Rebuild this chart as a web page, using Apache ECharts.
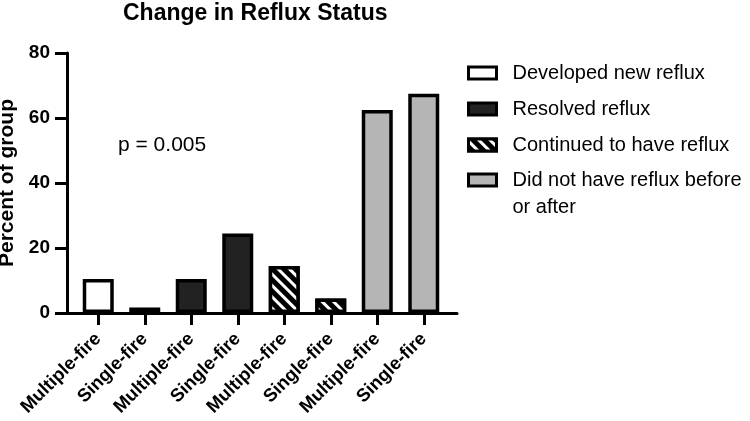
<!DOCTYPE html>
<html>
<head>
<meta charset="utf-8">
<script src="https://cdn.jsdelivr.net/npm/echarts@6/dist/echarts.min.js"></script>
<style>html,body{margin:0;padding:0;background:#fff}#c{width:750px;height:421px}</style>
</head>
<body>
<div id="c"></div>
<script>
const categories = ['Multiple-fire','Single-fire','Multiple-fire','Single-fire','Multiple-fire','Single-fire','Multiple-fire','Single-fire'];
const statusNames = ['Developed new reflux','Resolved reflux','Continued to have reflux','Did not have reflux before\nor after'];
const developed = [10.5, 1.7, '-', '-', '-', '-', '-', '-'];
const resolved = ['-', '-', 10.5, 24.5, '-', '-', '-', '-'];
const continued = ['-', '-', '-', '-', 14.5, 4.5, '-', '-'];
const neither = ['-', '-', '-', '-', '-', '-', 62.5, 67.5];
const yTicks = [0, 20, 40, 60, 80];

const FONT = 'Liberation Sans, Arial, sans-serif';
const chart = echarts.init(document.getElementById('c'), null, {renderer: 'canvas'});
const hatch = {
  symbol: 'rect', symbolSize: 1, symbolKeepAspect: false,
  color: '#ffffff', backgroundColor: '#000000',
  dashArrayX: [1, 0], dashArrayY: [2.5, 4.5], rotation: Math.PI / 4
};
const styles = [
  {color: '#ffffff', borderColor: '#000', borderWidth: 3.5},
  {color: '#222222', borderColor: '#000', borderWidth: 3.5},
  {color: '#000000', borderColor: '#000', borderWidth: 3.5, decal: hatch},
  {color: '#b5b5b5', borderColor: '#000', borderWidth: 3.5}
];
const dataSets = [developed, resolved, continued, neither];

const legendCommon = {
  orient: 'vertical', left: 467, padding: 0,
  itemWidth: 28, itemHeight: 12, itemGap: 9,
  icon: 'rect',
  itemStyle: {borderWidth: 3},
  textStyle: {fontFamily: FONT, fontSize: 20, color: '#000', lineHeight: 27, padding: [0, 0, 0, 11]}
};

const option = {
  animation: false,
  backgroundColor: '#fff',
  title: [
    {text: 'Change in Reflux Status', left: 123, top: 2, padding: 0,
     textStyle: {fontFamily: FONT, fontWeight: 'bold', fontSize: 23, color: '#000'}},
    {text: 'p = 0.005', left: 118, top: 135, padding: 0,
     textStyle: {fontFamily: FONT, fontWeight: 'normal', fontSize: 21, color: '#000'}}
  ],
  grid: [
    {left: 67, right: 293, top: 53, bottom: 108, outerBoundsMode: 'none', containLabel: false},
    {left: 75, right: 303, top: 53, bottom: 108, outerBoundsMode: 'none', containLabel: false}
  ],
  xAxis: [
    {type: 'category', gridIndex: 0, data: categories,
     axisLine: {lineStyle: {color: '#000', width: 3}}, axisTick: {show: false}, axisLabel: {show: false}},
    {type: 'category', gridIndex: 1, data: categories,
     axisLine: {show: false},
     axisTick: {show: true, alignWithLabel: true, length: 12, lineStyle: {color: '#000', width: 3}},
     axisLabel: {interval: 0, rotate: 45, margin: 23, fontFamily: FONT, fontWeight: 'bold', fontSize: 18.5, color: '#000'}}
  ],
  yAxis: [
    {type: 'value', gridIndex: 0, min: 0, max: 80, interval: 20,
     name: 'Percent of group', nameLocation: 'middle', nameGap: 47,
     nameTextStyle: {fontFamily: FONT, fontWeight: 'bold', fontSize: 21, color: '#000'},
     axisLine: {show: true, lineStyle: {color: '#000', width: 3}},
     axisTick: {show: true, length: 12, lineStyle: {color: '#000', width: 3}},
     axisLabel: {margin: 17, fontFamily: FONT, fontWeight: 'bold', fontSize: 19, color: '#000',
       formatter: v => yTicks.indexOf(v) >= 0 ? String(v) : ''},
     splitLine: {show: false}},
    {type: 'value', gridIndex: 1, min: 0, max: 80, interval: 20, show: false, splitLine: {show: false}}
  ],
  legend: [
    Object.assign({}, legendCommon, {top: 59.5, data: statusNames.slice(0, 3)}),
    Object.assign({}, legendCommon, {top: 139.5, data: statusNames.slice(3),
      formatter: n => '\n' + n})
  ],
  series: dataSets.map((d, i) => ({
    name: statusNames[i], type: 'bar', xAxisIndex: 1, yAxisIndex: 1,
    data: d, barWidth: 31, barGap: '-100%',
    itemStyle: styles[i]
  }))
};
chart.setOption(option);
</script>
</body>
</html>
